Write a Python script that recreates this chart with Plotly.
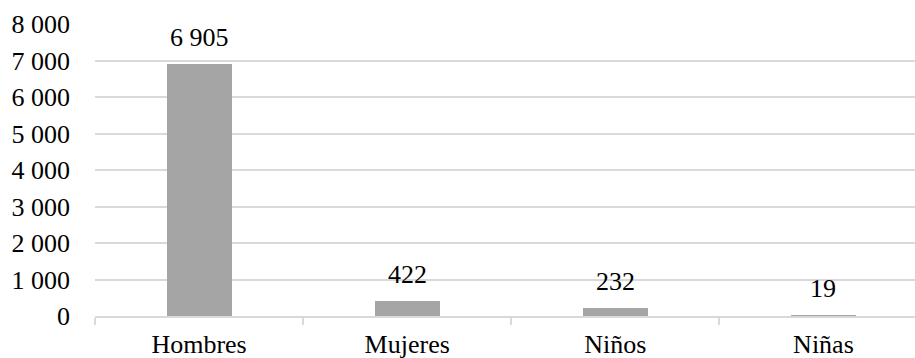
import plotly.graph_objects as go

categories = ["Hombres", "Mujeres", "Niños", "Niñas"]
values = [6905, 422, 232, 19]
y_ticks = [0, 1000, 2000, 3000, 4000, 5000, 6000, 7000, 8000]


def fmt(v):
    return f"{v:,}".replace(",", " ")


font_family = "Liberation Serif"
font_size = 26
bar_color = "#A5A5A5"
grid_color = "#D9D9D9"

fig = go.Figure()
fig.add_trace(go.Bar(
    x=categories,
    y=values,
    width=0.3125,
    marker=dict(color=bar_color, line=dict(width=0)),
    hoverinfo="skip",
))

# value labels above each bar
for c, v in zip(categories, values):
    fig.add_annotation(
        x=c, y=v, text=fmt(v), showarrow=False,
        yanchor="bottom", yshift=10,
        font=dict(family=font_family, size=font_size, color="#000000"),
    )

fig.update_layout(
    width=915, height=358,
    margin=dict(l=95, r=0, t=24, b=42),
    paper_bgcolor="white", plot_bgcolor="white",
    showlegend=False,
    font=dict(family=font_family, size=font_size, color="#000000"),
    separators=". ",
    bargap=0,
)
fig.update_xaxes(
    type="category",
    range=[-0.5, 3.44],
    showgrid=False,
    showline=True, linecolor=grid_color, linewidth=1.5,
    ticks="outside", tickson="boundaries", ticklen=7, tickcolor=grid_color, tickwidth=1.5,
    ticklabelstandoff=4,
    tickfont=dict(family=font_family, size=font_size),
)
fig.update_yaxes(
    range=[0, 8000],
    tickvals=y_ticks,
    ticktext=[fmt(t) for t in y_ticks],
    showgrid=True, gridcolor=grid_color, gridwidth=1.5,
    zeroline=False, showline=False,
    ticks="", ticklabelstandoff=24,
    tickfont=dict(family=font_family, size=font_size),
)

fig.write_html("out.html")
